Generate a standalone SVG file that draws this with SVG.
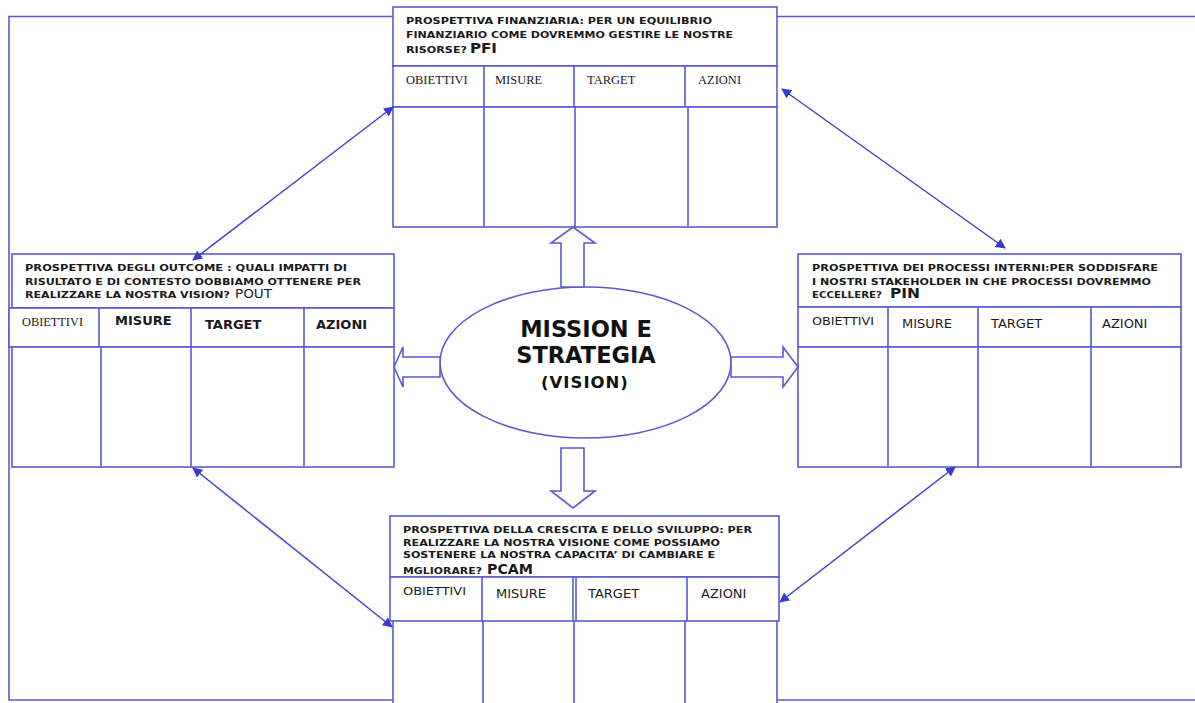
<svg xmlns="http://www.w3.org/2000/svg" width="1195" height="703" viewBox="0 0 1195 703">
<defs>
<style>
.b{fill:#fff;stroke:#5a5ad2;stroke-width:1.6}
.ln{fill:none;stroke:#5a5ad2;stroke-width:1.6}
.con{fill:none;stroke:#4242d0;stroke-width:1.5}
.h{font-family:"DejaVu Sans",Verdana,sans-serif;font-weight:bold;font-size:9.5px;fill:#1a1a1a}
.code{font-family:"DejaVu Sans",Verdana,sans-serif;font-weight:bold;font-size:14px;fill:#1a1a1a}
.ser{font-family:"Liberation Serif","Times New Roman",serif;font-size:12.5px;fill:#1a1a1a}
.sm{font-family:"DejaVu Sans Condensed","DejaVu Sans",sans-serif;font-size:10px;fill:#1a1a1a}
.col{font-family:"DejaVu Sans",Verdana,sans-serif;font-size:13px;fill:#1a1a1a}
.colb{font-family:"DejaVu Sans",Verdana,sans-serif;font-weight:bold;font-size:13px;fill:#1a1a1a}
.mid{font-family:"DejaVu Sans",Verdana,sans-serif;font-weight:bold;fill:#111;text-anchor:middle}
</style>
<marker id="ah" viewBox="0 0 10 10" refX="9" refY="5" markerWidth="10" markerHeight="10" markerUnits="userSpaceOnUse" orient="auto-start-reverse">
<path d="M0,0 L10,5 L0,10 z" fill="#3a3ad0"/>
</marker>
</defs>

<g id="frame">
<path class="ln" d="M393,16.5 H9 V700 H393"/>
<path class="ln" d="M776,16.5 H1195"/>
<path class="ln" d="M777,700 H1195"/>
</g>

<g id="center">
<ellipse class="b" cx="585.5" cy="362.5" rx="145.5" ry="75.5"/>
<text class="mid" x="586" y="337" font-size="22.5">MISSION E</text>
<text class="mid" x="586" y="363" font-size="22.5">STRATEGIA</text>
<text class="mid" x="585" y="388" font-size="16.5" letter-spacing="1">(VISION)</text>
</g>

<g id="pfi">
<rect class="b" x="393" y="7" width="384" height="59"/>
<rect class="b" x="393" y="66" width="384" height="41"/>
<path class="ln" d="M484,66 V107 M574,66 V107 M685,66 V107"/>
<rect class="b" x="393" y="107" width="384" height="120"/>
<path class="ln" d="M484,107 V227 M575,107 V227 M688,107 V227"/>
<text class="h" x="406" y="24" textLength="306" lengthAdjust="spacingAndGlyphs">PROSPETTIVA FINANZIARIA:  PER UN EQUILIBRIO</text>
<text class="h" x="406" y="38" textLength="327" lengthAdjust="spacingAndGlyphs">FINANZIARIO COME DOVREMMO GESTIRE  LE NOSTRE</text>
<text class="h" x="406" y="53" textLength="61" lengthAdjust="spacingAndGlyphs">RISORSE?</text>
<text class="code" x="470" y="53" textLength="27" lengthAdjust="spacingAndGlyphs">PFI</text>
<text class="ser" x="406" y="84">OBIETTIVI</text>
<text class="ser" x="495" y="84">MISURE</text>
<text class="ser" x="587" y="84">TARGET</text>
<text class="ser" x="698" y="84">AZIONI</text>
</g>

<g id="pout">
<rect class="b" x="12" y="254" width="382" height="54"/>
<rect class="b" x="9" y="308" width="385" height="39"/>
<path class="ln" d="M99,308 V347 M191,308 V347 M304,308 V347"/>
<rect class="b" x="12" y="347" width="382" height="120"/>
<path class="ln" d="M101,347 V467 M191,347 V467 M304,347 V467"/>
<text class="h" x="25" y="271" textLength="322" lengthAdjust="spacingAndGlyphs">PROSPETTIVA DEGLI OUTCOME : QUALI IMPATTI  DI</text>
<text class="h" x="25" y="285" textLength="336" lengthAdjust="spacingAndGlyphs">RISULTATO E DI CONTESTO  DOBBIAMO OTTENERE  PER</text>
<text class="h" x="25" y="298" textLength="205" lengthAdjust="spacingAndGlyphs">REALIZZARE LA NOSTRA VISION?</text>
<text class="col" x="235" y="298" font-size="12" textLength="37" lengthAdjust="spacingAndGlyphs">POUT</text>
<text class="ser" x="22" y="326" font-size="11" textLength="61" lengthAdjust="spacingAndGlyphs">OBIETTIVI</text>
<text class="colb" x="115" y="325" font-size="11">MISURE</text>
<text class="colb" x="205" y="329">TARGET</text>
<text class="colb" x="316" y="329">AZIONI</text>
</g>

<g id="pin">
<rect class="b" x="798" y="254" width="383" height="53"/>
<rect class="b" x="798" y="307" width="383" height="40"/>
<path class="ln" d="M888,307 V347 M978,307 V347 M1091,307 V347"/>
<rect class="b" x="798" y="347" width="383" height="120"/>
<path class="ln" d="M888,347 V467 M978,347 V467 M1091,347 V467"/>
<text class="h" x="812" y="271" textLength="346" lengthAdjust="spacingAndGlyphs">PROSPETTIVA DEI PROCESSI INTERNI:PER  SODDISFARE</text>
<text class="h" x="812" y="285" textLength="339" lengthAdjust="spacingAndGlyphs">I NOSTRI STAKEHOLDER  IN  CHE PROCESSI DOVREMMO</text>
<text class="h" x="812" y="298" font-size="8.5" textLength="70" lengthAdjust="spacingAndGlyphs">ECCELLERE?</text>
<text class="code" x="890" y="298" textLength="30" lengthAdjust="spacingAndGlyphs">PIN</text>
<text class="sm" x="812" y="325" textLength="62" lengthAdjust="spacingAndGlyphs">OBIETTIVI</text>
<text class="col" x="902" y="328">MISURE</text>
<text class="col" x="991" y="328">TARGET</text>
<text class="col" x="1102" y="328">AZIONI</text>
</g>

<g id="pcam">
<rect class="b" x="390" y="516" width="389" height="61"/>
<rect class="b" x="390" y="577" width="389" height="44"/>
<path class="ln" d="M482,577 V621 M573,577 V621 M576,577 V621 M687,577 V621"/>
<path class="ln" d="M393,621 V703 M777,621 V703 M483,621 V703 M574,621 V703 M685,621 V703"/>
<text class="h" x="403" y="533" textLength="349" lengthAdjust="spacingAndGlyphs">PROSPETTIVA DELLA CRESCITA E DELLO  SVILUPPO: PER</text>
<text class="h" x="403" y="546" textLength="317" lengthAdjust="spacingAndGlyphs">REALIZZARE LA NOSTRA VISIONE COME POSSIAMO</text>
<text class="h" x="403" y="558" textLength="312" lengthAdjust="spacingAndGlyphs">SOSTENERE LA NOSTRA CAPACITA’ DI CAMBIARE E</text>
<text class="h" x="403" y="574" font-size="8.5" textLength="79" lengthAdjust="spacingAndGlyphs">MGLIORARE?</text>
<text class="code" x="487" y="574" font-size="15" textLength="46" lengthAdjust="spacingAndGlyphs">PCAM</text>
<text class="sm" x="403" y="595" textLength="63" lengthAdjust="spacingAndGlyphs">OBIETTIVI</text>
<text class="col" x="496" y="598">MISURE</text>
<text class="col" x="588" y="598">TARGET</text>
<text class="col" x="701" y="598">AZIONI</text>
</g>

<g id="connectors">
<line class="con" x1="193" y1="260" x2="393" y2="107" marker-start="url(#ah)" marker-end="url(#ah)"/>
<line class="con" x1="782" y1="89" x2="1005" y2="248" marker-start="url(#ah)" marker-end="url(#ah)"/>
<line class="con" x1="193" y1="468" x2="392" y2="627" marker-start="url(#ah)" marker-end="url(#ah)"/>
<line class="con" x1="955" y1="467" x2="780" y2="602" marker-start="url(#ah)" marker-end="url(#ah)"/>
<path class="b" d="M561,287 V243 H551 L573,227 L595,243 H584 V287 Z"/>
<path class="b" d="M561,448 V491 H551 L573,508 L595,491 H584 V448 Z"/>
<path class="b" d="M440,357 H403 V347 L394,367 L403,387 V377 H440 Z"/>
<path class="b" d="M731,357 H783 V347 L798,367 L783,387 V377 H731 Z"/>
</g>
</svg>
